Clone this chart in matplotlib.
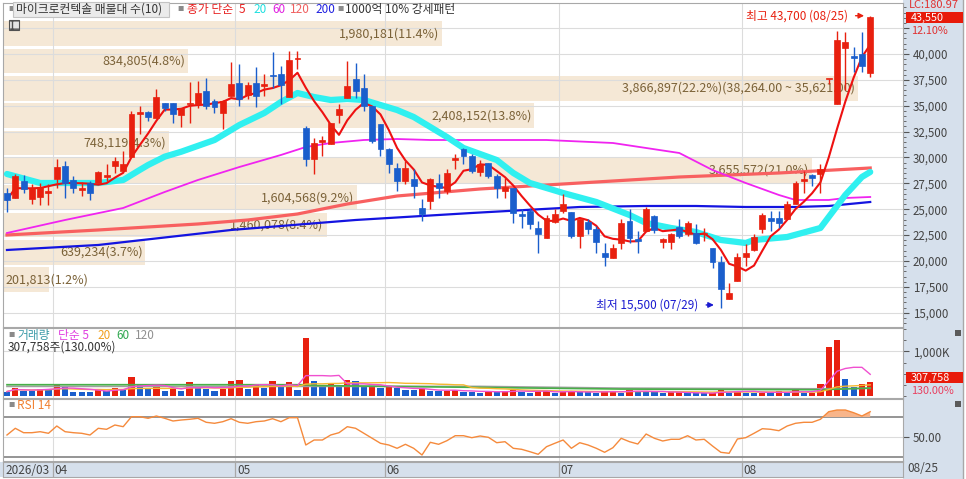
import numpy as np
import pandas as pd
import matplotlib
matplotlib.use('Agg')
import matplotlib.pyplot as plt
from matplotlib.patches import Rectangle
from matplotlib.ticker import MultipleLocator

plt.rcParams['font.family'] = ['Noto Sans CJK KR', 'DejaVu Sans']

# daily candles (2026/03 ~ 08/25)
open_ = [26600, 26100, 27750, 26000, 26200, 26600, 27900, 29200, 27850, 26900,
         27550, 27550, 28100, 29200, 28700, 30050, 34200, 34400, 33800, 35250,
         35250, 34100, 35150, 35200, 36400, 35450, 34300, 35950, 37200, 36000,
         37200, 36900, 38000, 38050, 35850, 39500, 32850, 29850, 31500, 31300,
         34100, 35750, 37600, 36700, 35000, 33250, 30850, 29000, 27750, 27950,
         25150, 25800, 27550, 26800, 29800, 30800, 30150, 28600, 29500, 28200,
         26800, 27050, 24550, 24850, 23200, 22250, 23800, 24850, 24750, 22450,
         23800, 23100, 20800, 20300, 21750, 23900, 22150, 22900, 24300, 21850,
         21850, 23300, 22650, 22750, 22650, 21250, 19900, 16350, 18100, 20400,
         21100, 23100, 24200, 24200, 24100, 25500, 27750, 28300, 28400, 37550,
         35200, 40600, 39800, 40000, 38200]
high = [27100, 28400, 28300, 27450, 27550, 27400, 29850, 29700, 28250, 27600,
        27700, 28700, 29400, 30050, 30650, 34500, 35000, 34500, 36600, 35300,
        35300, 34800, 37300, 37400, 37700, 35650, 35600, 39200, 39050, 37300,
        38700, 38050, 40200, 38850, 40300, 40300, 33050, 31900, 32100, 33350,
        35150, 39300, 39100, 38050, 35000, 33250, 30950, 29500, 29700, 28900,
        26000, 28050, 28400, 28900, 30300, 30950, 30350, 29750, 29500, 28400,
        28050, 27050, 25050, 25150, 23900, 24400, 25050, 26500, 24750, 24100,
        24100, 23400, 21750, 21650, 24100, 25050, 22900, 25250, 24400, 22250,
        22750, 24100, 23900, 23600, 23200, 21250, 20500, 17900, 20800, 21650,
        22650, 24650, 24850, 24850, 25800, 27750, 28700, 28400, 29400, 37550,
        42200, 42100, 40650, 42100, 43700]
low = [24750, 26100, 26600, 25500, 25400, 25400, 27050, 26100, 26600, 26300,
       25900, 27550, 27750, 28500, 28700, 30000, 32300, 33500, 33800, 34500,
       33350, 32950, 33350, 34800, 34700, 34300, 32750, 35950, 35000, 35700,
       34900, 35950, 36700, 35150, 35850, 38550, 29200, 28400, 30150, 31300,
       33350, 35750, 35750, 34500, 31400, 30150, 28500, 26800, 27450, 26100,
       23900, 25000, 26100, 26500, 28900, 29400, 28500, 28200, 28000, 26100,
       26100, 23700, 23200, 23100, 20800, 22250, 23700, 24650, 22250, 21300,
       22650, 20800, 19550, 20300, 21150, 21750, 20800, 22900, 22700, 21300,
       21150, 22250, 22450, 21650, 21950, 19350, 15500, 16350, 18100, 19550,
       21000, 22700, 22900, 23200, 24100, 25500, 26600, 27250, 26600, 37100,
       35200, 36500, 38260, 38260, 37800]
close = [25900, 28200, 26950, 27050, 27150, 26800, 29100, 27550, 27050, 27050,
         26600, 28600, 28300, 29700, 29400, 34200, 34400, 33900, 35850, 34800,
         34200, 34800, 35300, 36250, 35000, 34900, 35450, 37100, 35650, 37000,
         35950, 37100, 37850, 37000, 39400, 39600, 29850, 31400, 31650, 33350,
         34700, 36900, 36450, 35000, 31600, 30850, 29400, 27750, 29000, 27250,
         24550, 27950, 27050, 28500, 29950, 30150, 28700, 29400, 28200, 27050,
         27150, 24650, 24350, 23600, 22650, 24200, 24550, 25500, 22450, 24100,
         23100, 21850, 20400, 21250, 23700, 22250, 21950, 25050, 23000, 22150,
         22650, 22450, 23700, 21750, 22750, 19900, 17300, 16950, 20400, 20800,
         22350, 24450, 23900, 23700, 25500, 27550, 27950, 28050, 28900, 37550,
         41350, 41150, 39600, 38850, 43550]
vol_k = [100, 190, 123, 118, 160, 150, 253, 215, 100, 92,
         90, 160, 107, 190, 153, 421, 245, 160, 238, 115,
         170, 115, 315, 215, 160, 115, 153, 330, 352, 160,
         245, 184, 330, 200, 315, 138, 1300, 330, 200, 276,
         200, 352, 330, 200, 205, 170, 215, 190, 138, 135,
         160, 123, 107, 123, 138, 100, 98, 61, 115, 100,
         102, 138, 100, 77, 115, 118, 61, 100, 102, 92,
         90, 77, 100, 123, 77, 138, 100, 98, 96, 77,
         80, 82, 61, 60, 58, 58, 176, 77, 123, 77,
         76, 78, 61, 115, 77, 138, 77, 78, 268, 1090,
         1260, 385, 210, 265, 307.758]
rsi = [52, 58.7, 54.3, 54.3, 55.3, 53.7, 61, 55.3, 54.3, 53.7,
       52, 58.7, 57.7, 62, 60.3, 70.3, 70.3, 68.7, 71, 68.7,
       66, 67, 67.7, 68.7, 64.7, 63.7, 65.3, 68.3, 64.7, 63.7,
       65.3, 66, 68.3, 65.3, 69.3, 69.3, 42, 47, 47, 52,
       54.3, 60.3, 58.7, 53.7, 48.7, 43.7, 42, 38.7, 42.7, 38.7,
       32, 44.7, 42.7, 46.3, 51.3, 51.3, 49.3, 51, 49.7, 44.3,
       45.3, 38.7, 37.7, 35.3, 32.7, 40.3, 43.7, 47, 38.7, 44.3,
       42, 38.7, 34.7, 39.3, 48.7, 45.3, 43, 53, 48.7, 46,
       47.7, 47.7, 51.3, 47, 47.7, 41, 34.7, 33.7, 48, 49.3,
       53.7, 58.3, 57.7, 56.3, 61, 63.7, 64.7, 64.7, 67.7, 75.3,
       77, 77, 74.3, 71, 75.3]

# moving averages (index, price)
ma20_i = [0, 4, 11, 14, 16, 17, 19, 21, 25, 28, 31, 33, 35, 37, 39, 41, 43, 45, 47, 49, 51, 53, 55,
          59, 61, 63, 67, 71, 75, 77, 80, 83, 86, 89, 90, 94, 98, 99, 101, 103, 104]
ma20_v = [28406, 27536, 27536, 27826, 28800, 29275, 30080, 30560, 31690, 33140, 34300, 35362, 36232,
          35845, 35556, 35652, 35556, 35072, 34589, 33913, 32947, 31981, 30918, 29758, 28502, 27536,
          26570, 25700, 24444, 23671, 23188, 22802, 22029, 21739, 22029, 22319, 23188, 24251, 26377,
          28116, 28599]
ma60_i = [0, 7, 14, 19, 23, 28, 33, 36, 39, 43, 47, 51, 57, 65, 73, 81, 85, 89, 93, 95, 99, 101, 104]
ma60_v = [22705, 23961, 25121, 26667, 27826, 29082, 30242, 31014, 31401, 31691, 31787, 31691, 31691,
          31691, 31401, 30435, 28792, 27536, 26377, 25894, 25894, 26087, 26184]
ma120_i = [0, 11, 23, 29, 35, 41, 47, 57, 69, 81, 93, 104]
ma120_v = [22512, 22995, 23575, 23961, 24541, 25507, 26280, 26957, 27536, 28116, 28502, 28986]
ma200_i = [0, 11, 27, 42, 56, 69, 77, 83, 89, 95, 99, 104]
ma200_v = [21063, 21546, 22995, 23961, 24638, 25217, 25314, 25314, 25217, 25217, 25314, 25700]
vma60_i = [0, 36, 37, 57, 74, 98, 104]
vma60_v = [253000, 253000, 235000, 192000, 155000, 140000, 178000]
vma120_i = [0, 57, 74, 98, 104]
vma120_v = [215000, 215000, 176000, 161000, 172000]

# volume profile (매물대 10)
band_hi = [43550, 40907, 38264, 35621, 32978, 30335, 27692, 25049, 22406, 19763]
band_step = 2643
band_vol = [1980181, 834805, 3866897, 2408152, 748119, 3655572, 1604568, 1460078, 639234, 201813]
band_pct = [11.4, 4.8, 22.2, 13.8, 4.3, 21.0, 9.2, 8.4, 3.7, 1.2]

month_pos = [5.5, 27.5, 45.5, 66.5, 88.5]
month_lbl = ['04', '05', '06', '07', '08']
first_lbl = '2026/03'
last_lbl = '08/25'
max_date, min_date = '08/25', '07/29'

open_, high, low, close = map(np.array, (open_, high, low, close))
vol = np.array(vol_k) * 1000
rsi = np.array(rsi)
n = len(close)
idx = np.arange(n)

W, H = 966, 479
RED = '#E8200F'
BLUE = '#1A5ECC'
AXBG = '#D6E0EC'
BAND = '#F5E8D6'
GRID = '#DCDCDC'
SPINE = '#A8A8A8'
XL = (-0.48, 107.95)
FS = 8.5

fig = plt.figure(figsize=(W / 100, H / 100), dpi=100)


def box(x0, y0, x1, y1):
    return [x0 / W, 1 - y1 / H, (x1 - x0) / W, (y1 - y0) / H]


def ftext(x, y, s, **kw):
    kw.setdefault('va', 'center')
    kw.setdefault('fontsize', FS)
    fig.text(x / W, 1 - y / H, s, **kw)


def frect(x0, y0, x1, y1, **kw):
    fig.add_artist(Rectangle((x0 / W, 1 - y1 / H), (x1 - x0) / W, (y1 - y0) / H,
                             transform=fig.transFigure, **kw))


frect(903, 0, 963, 479, fc=AXBG, ec='none', zorder=-5)
frect(0, 462, 963, 477, fc=AXBG, ec='none', zorder=-5)


def style(a):
    a.set_xlim(*XL)
    for s in a.spines.values():
        s.set_color(SPINE)
    a.yaxis.tick_right()
    a.set_xticks(month_pos)
    a.tick_params(axis='x', length=0, labelbottom=False)
    a.tick_params(axis='y', which='both', colors='#555', labelcolor='#444', labelsize=8.3,
                  direction='out', pad=3)
    a.tick_params(axis='y', which='major', length=4)
    a.tick_params(axis='y', which='minor', length=2)
    a.grid(True, color=GRID, lw=0.8)
    a.set_axisbelow('line')


# ---------------- price panel ----------------
ax = fig.add_axes(box(3, 3, 903, 327))
style(ax)
ax.set_ylim(13620, 44930)
yt = np.arange(15000, 42501, 2500)
ax.set_yticks(yt)
ax.set_yticklabels([f'{v:,}' if v <= 40000 else '' for v in yt])
ax.yaxis.set_minor_locator(MultipleLocator(500))

span = XL[1] - XL[0]
for hi, v, p in zip(band_hi, band_vol, band_pct):
    lo = hi - band_step
    wdt = p / max(band_pct) * 0.95 * span
    yc = (hi + lo) / 2 - 250
    ax.barh(yc, wdt, height=band_step * 0.9, left=XL[0], color=BAND, zorder=1)
    lbl = f'{v:,}({p:.1f}%)'
    if p == max(band_pct):
        lbl += f'({hi:,.2f} ~ {lo:,.2f})'
    if p < 2:
        ax.text(XL[0] + 0.3, yc, lbl, ha='left', va='center', fontsize=9, color='#7B6238', zorder=3)
    else:
        ax.text(XL[0] + wdt - 0.35, yc, lbl, ha='right', va='center', fontsize=9,
                color='#7B6238', zorder=3)

ax.plot(ma200_i, ma200_v, color='#1414E0', lw=1.6, zorder=4)
ax.plot(ma120_i, ma120_v, color='#F86060', lw=2.3, zorder=4)
ax.plot(ma60_i, ma60_v, color='#F024F0', lw=1.3, zorder=4)
ax.plot(ma20_i, ma20_v, color='#30F0F0', lw=4.5, zorder=4, solid_capstyle='round')
ma5 = pd.Series(close).rolling(5, min_periods=1).mean()
ax.plot(idx, ma5, color='#EE1111', lw=1.5, zorder=4.5)

cols = np.where(close >= open_, RED, BLUE)
ax.vlines(idx, low, high, colors=cols, lw=1, zorder=5)
ax.bar(idx, np.maximum(np.abs(close - open_), 90), bottom=np.minimum(open_, close),
       width=0.72, color=cols, edgecolor=cols, lw=0.5, zorder=6)

imax = int(np.argmax(high))
ax.annotate('', xy=(imax - 0.4, high[imax]), xytext=(imax - 2.1, high[imax]),
            arrowprops=dict(arrowstyle='-|>', color=RED, lw=1, mutation_scale=8), zorder=7)
ax.text(imax - 2.7, high[imax], f'최고 {high[imax]:,} ({max_date})', ha='right', va='center',
        fontsize=FS, color=RED, zorder=7)
imin = int(np.argmin(low))
ax.annotate('', xy=(imin - 0.5, low[imin] + 250), xytext=(imin - 2.1, low[imin] + 250),
            arrowprops=dict(arrowstyle='-|>', color='#1A1AD0', lw=1, mutation_scale=8), zorder=7)
ax.text(imin - 2.75, low[imin] + 250, f'최저 {low[imin]:,} ({min_date})', ha='right', va='center',
        fontsize=FS, color='#1A1AD0', zorder=7)

# legend row
ftext(8, 9, '■', fontsize=4.5, color='#8A8A8A')
frect(13, 2, 169, 17, fc='#EBEBEB', ec='#C4C4C4', lw=0.8, zorder=5)
ftext(16, 9.5, '마이크로컨텍솔 매물대 수(10)', color='#333', zorder=6)
ftext(177, 9, '■', fontsize=4.5, color='#8A8A8A')
ftext(187, 9.5, '종가 단순', color='#E82020')
ftext(239, 9.5, '5', color='#E82020')
ftext(253, 9.5, '20', color='#20E0E0')
ftext(272, 9.5, '60', color='#E020E0')
ftext(290, 9.5, '120', color='#F06060')
ftext(315, 9.5, '200', color='#2020E0')
ftext(337, 9, '■', fontsize=4.5, color='#8A8A8A')
ftext(345, 9.5, '1000억 10% 강세패턴', color='#333')
frect(9, 20, 19, 30, fc='#E4E4E4', ec='#505050', lw=0.8, hatch='++', zorder=5)

chg = (close[-1] / close[-2] - 1) * 100
ftext(909, 5, 'LC:180.97', color='#E03030', fontsize=8)
frect(906, 12, 963, 23, fc='#E81A0A', ec='none', zorder=5)
ftext(911, 17.5, f'{close[-1]:,}', color='white', zorder=6, fontsize=7.8)
ftext(911, 30.5, f'{chg:.2f}%', color='#E03030', fontsize=7.8)

# ---------------- volume panel ----------------
axv = fig.add_axes(box(3, 328, 903, 398))
style(axv)
axv.set_ylim(-45000, 1523000)
axv.set_yticks([1000000])
axv.set_yticklabels(['1,000K'])
axv.yaxis.set_minor_locator(MultipleLocator(250000))
vcol = [BLUE] + [RED if vol[i] >= vol[i - 1] else BLUE for i in range(1, n)]
axv.bar(idx, vol, width=0.75, color=vcol, zorder=3)
vs = pd.Series(vol)
axv.plot(vma120_i, vma120_v, color='#A0A0A0', lw=1.2, zorder=4)
axv.plot(vma60_i, vma60_v, color='#48B048', lw=1.2, zorder=4)
axv.plot(idx, vs.rolling(20, min_periods=1).mean(), color='#F5B830', lw=1, zorder=4)
axv.plot(idx, vs.rolling(5, min_periods=1).mean(), color='#F050D0', lw=1, zorder=4)

ftext(8, 335, '■', fontsize=4.5, color='#8A8A8A')
ftext(17, 335.5, '거래량', color='#3A9AA8')
ftext(58, 335.5, '단순 5', color='#E040E0')
ftext(97, 335.5, '20', color='#F0A020')
ftext(116, 335.5, '60', color='#30A850')
ftext(135, 335.5, '120', color='#909090')
ftext(8, 347.5, f'{vol[-1]:,.0f}주(130.00%)', color='#333')
frect(906, 372, 963, 383, fc='#E81A0A', ec='none', zorder=5)
ftext(911, 377.5, f'{vol[-1]:,.0f}', color='white', zorder=6, fontsize=7.8)
ftext(911, 390.5, '130.00%', color='#E84060', fontsize=7.8)
frect(955, 330, 961, 336, fc='#5A5A5A', ec='none', zorder=5)

# ---------------- RSI panel ----------------
axr = fig.add_axes(box(3, 399, 903, 461))
style(axr)
axr.set_ylim(26, 88)
axr.set_yticks([50])
axr.set_yticklabels(['50.00'])
axr.axhline(70, color='#8C8C8C', lw=1.3, zorder=2)
axr.axhline(30, color='#8C8C8C', lw=1.3, zorder=2)
axr.fill_between(idx, rsi, 70, where=rsi > 70, interpolate=True, color='#F8B58A', lw=0, zorder=3)
axr.plot(idx, rsi, color='#F58A3C', lw=1, zorder=4)
ftext(8, 405, '■', fontsize=4.5, color='#8A8A8A')
ftext(17, 405.5, 'RSI 14', color='#F08030')
frect(955, 401, 961, 407, fc='#5A5A5A', ec='none', zorder=5)

# ---------------- date strip ----------------
axd = fig.add_axes(box(3, 462, 903, 477))
axd.set_facecolor(AXBG)
axd.set_xlim(*XL)
axd.set_ylim(0, 1)
axd.set_xticks([])
axd.set_yticks([])
for s in axd.spines.values():
    s.set_color(SPINE)
axd.vlines(month_pos, 0, 1, color='#A8A8A8', lw=0.9)
axd.text(0.003, 0.45, first_lbl, transform=axd.transAxes, ha='left', va='center', fontsize=FS, color='#444')
for p, m in zip(month_pos, month_lbl):
    axd.text(p + 0.2, 0.45, m, ha='left', va='center', fontsize=FS, color='#444')
ftext(907, 469, last_lbl, color='#444')

fig.add_artist(plt.Line2D([963 / W, 963 / W], [0, 1], transform=fig.transFigure, color=SPINE, lw=1))

fig.savefig('out.png', dpi=100)
